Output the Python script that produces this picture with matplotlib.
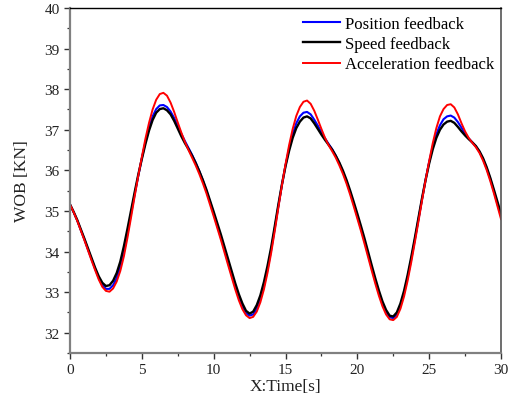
import matplotlib
matplotlib.use("Agg")
import matplotlib.pyplot as plt
from matplotlib.ticker import MultipleLocator

plt.rcParams['font.family'] = ['Liberation Serif', 'DejaVu Serif']

time_s = [0.0, 0.25, 0.5, 0.75, 1.0, 1.25, 1.5, 1.75, 2.0, 2.25, 2.5, 2.75, 3.0, 3.25, 3.5, 3.75,
          4.0, 4.25, 4.5, 4.75, 5.0, 5.25, 5.5, 5.75, 6.0, 6.25, 6.5, 6.75, 7.0, 7.25, 7.5, 7.75,
          8.0, 8.25, 8.5, 8.75, 9.0, 9.25, 9.5, 9.75, 10.0, 10.25, 10.5, 10.75, 11.0, 11.25,
          11.5, 11.75, 12.0, 12.25, 12.5, 12.75, 13.0, 13.25, 13.5, 13.75, 14.0, 14.25, 14.5,
          14.75, 15.0, 15.25, 15.5, 15.75, 16.0, 16.25, 16.5, 16.75, 17.0, 17.25, 17.5, 17.75,
          18.0, 18.25, 18.5, 18.75, 19.0, 19.25, 19.5, 19.75, 20.0, 20.25, 20.5, 20.75, 21.0,
          21.25, 21.5, 21.75, 22.0, 22.25, 22.5, 22.75, 23.0, 23.25, 23.5, 23.75, 24.0, 24.25,
          24.5, 24.75, 25.0, 25.25, 25.5, 25.75, 26.0, 26.25, 26.5, 26.75, 27.0, 27.25, 27.5,
          27.75, 28.0, 28.25, 28.5, 28.75, 29.0, 29.25, 29.5, 29.75, 30.0]

position_fb = [35.16, 34.97, 34.77, 34.53, 34.30, 34.05, 33.81, 33.57, 33.35, 33.17, 33.08, 33.08,
               33.17, 33.35, 33.62, 33.98, 34.44, 34.93, 35.40, 35.86, 36.30, 36.70, 37.05, 37.33,
               37.51, 37.60, 37.61, 37.56, 37.45, 37.29, 37.10, 36.90, 36.72, 36.55, 36.38, 36.19,
               35.98, 35.75, 35.49, 35.22, 34.93, 34.64, 34.35, 34.05, 33.74, 33.44, 33.14, 32.87,
               32.65, 32.48, 32.42, 32.45, 32.59, 32.83, 33.15, 33.56, 34.03, 34.56, 35.11, 35.64,
               36.12, 36.54, 36.89, 37.16, 37.33, 37.42, 37.44, 37.38, 37.25, 37.10, 36.94, 36.79,
               36.65, 36.52, 36.36, 36.17, 35.96, 35.72, 35.46, 35.17, 34.87, 34.57, 34.26, 33.93,
               33.60, 33.28, 32.98, 32.71, 32.51, 32.38, 32.36, 32.45, 32.66, 32.97, 33.36, 33.80,
               34.28, 34.78, 35.28, 35.77, 36.21, 36.59, 36.89, 37.11, 37.26, 37.33, 37.35, 37.30,
               37.19, 37.05, 36.91, 36.79, 36.69, 36.59, 36.46, 36.28, 36.05, 35.79, 35.49, 35.18,
               34.87]

speed_fb = [35.16, 34.98, 34.78, 34.55, 34.32, 34.08, 33.84, 33.60, 33.39, 33.23, 33.15, 33.17,
            33.28, 33.47, 33.75, 34.13, 34.56, 35.01, 35.46, 35.89, 36.28, 36.65, 36.98, 37.24,
            37.42, 37.51, 37.53, 37.48, 37.38, 37.22, 37.03, 36.84, 36.67, 36.52, 36.36, 36.18,
            35.98, 35.76, 35.52, 35.25, 34.98, 34.70, 34.42, 34.12, 33.82, 33.52, 33.22, 32.95,
            32.72, 32.54, 32.47, 32.52, 32.68, 32.92, 33.25, 33.65, 34.10, 34.62, 35.15, 35.65,
            36.10, 36.48, 36.80, 37.04, 37.20, 37.30, 37.33, 37.28, 37.16, 37.02, 36.88, 36.75,
            36.63, 36.51, 36.36, 36.19, 35.99, 35.76, 35.50, 35.22, 34.93, 34.63, 34.32, 33.99,
            33.66, 33.34, 33.04, 32.77, 32.56, 32.42, 32.40, 32.50, 32.72, 33.03, 33.42, 33.86,
            34.33, 34.82, 35.31, 35.76, 36.17, 36.52, 36.80, 37.00, 37.13, 37.20, 37.22, 37.17,
            37.07, 36.96, 36.86, 36.77, 36.69, 36.60, 36.47, 36.30, 36.08, 35.82, 35.53, 35.23,
            34.93]

accel_fb = [35.16, 34.97, 34.76, 34.52, 34.28, 34.03, 33.78, 33.54, 33.31, 33.13, 33.03, 33.01,
            33.09, 33.26, 33.52, 33.88, 34.34, 34.84, 35.36, 35.86, 36.33, 36.78, 37.17, 37.50,
            37.74, 37.88, 37.91, 37.84, 37.67, 37.44, 37.18, 36.93, 36.70, 36.50, 36.31, 36.12,
            35.91, 35.68, 35.43, 35.15, 34.87, 34.58, 34.29, 33.98, 33.67, 33.37, 33.07, 32.80,
            32.58, 32.43, 32.36, 32.39, 32.52, 32.75, 33.07, 33.48, 33.96, 34.50, 35.07, 35.63,
            36.15, 36.62, 37.02, 37.34, 37.56, 37.69, 37.72, 37.64, 37.47, 37.25, 37.02, 36.80,
            36.62, 36.47, 36.31, 36.12, 35.91, 35.67, 35.40, 35.11, 34.81, 34.51, 34.19, 33.86,
            33.53, 33.21, 32.91, 32.65, 32.45, 32.33, 32.31, 32.39, 32.59, 32.89, 33.28, 33.73,
            34.22, 34.73, 35.25, 35.76, 36.23, 36.67, 37.04, 37.33, 37.51, 37.61, 37.63, 37.55,
            37.38, 37.16, 36.96, 36.80, 36.68, 36.57, 36.43, 36.24, 36.01, 35.74, 35.44, 35.12,
            34.80]

series_labels = ["Position feedback", "Speed feedback", "Acceleration feedback"]

fig = plt.figure(figsize=(5.14, 4.10), dpi=100)
ax = fig.add_axes([70/514, 1-354/410, 431/514, 345/410])

ax.plot(time_s, position_fb, color='#0000ff', lw=1.5, label=series_labels[0])
ax.plot(time_s, speed_fb, color='black', lw=1.7, label=series_labels[1])
ax.plot(time_s, accel_fb, color='#ff0000', lw=1.4, label=series_labels[2])

ax.set_xlim(0, 30)
ax.set_ylim(31.5, 40)
ax.xaxis.set_major_locator(MultipleLocator(5))
ax.xaxis.set_minor_locator(MultipleLocator(2.5))
ax.yaxis.set_major_locator(MultipleLocator(1))
ax.yaxis.set_minor_locator(MultipleLocator(0.5))
ax.tick_params(which='both', direction='out', colors='#333333', labelcolor='#222222',
               top=False, right=False)
ax.tick_params(which='major', length=4, width=1.0, labelsize=11)
ax.tick_params(which='minor', length=2.5, width=0.9)

for s in ['left', 'bottom']:
    ax.spines[s].set_color('#808080')
    ax.spines[s].set_linewidth(1.6)
ax.spines['top'].set_color('black')
ax.spines['top'].set_linewidth(1.0)
ax.spines['right'].set_color('#555555')
ax.spines['right'].set_linewidth(1.2)

ax.set_xlabel("X:Time[s]", fontsize=12.5, color='#222222', labelpad=1.5)
ax.set_ylabel("WOB [KN]", fontsize=12.5, color='#222222', labelpad=10)

leg = ax.legend(loc='upper right', frameon=False, fontsize=12, handlelength=2.2,
                handletextpad=0.3, labelspacing=0.25, borderaxespad=0.0,
                bbox_to_anchor=(1.0, 0.996))

fig.savefig("out.png", dpi=100)
